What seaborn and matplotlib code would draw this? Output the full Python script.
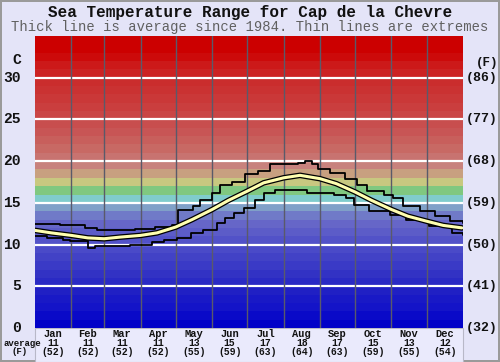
# Sea temperature range chart - average line with min/max extremes over colour bands

import matplotlib.pyplot as plt
import matplotlib.patheffects as pe
import numpy as np
import pandas as pd
import seaborn as sns
from matplotlib.patches import Rectangle

# Month labels and the monthly averages printed under the axis
months = ["Jan", "Feb", "Mar", "Apr", "May", "Jun",
          "Jul", "Aug", "Sep", "Oct", "Nov", "Dec"]
month_avg_c = [11, 11, 11, 11, 13, 15, 17, 18, 17, 15, 13, 12]
month_avg_f = [52, 52, 52, 52, 55, 59, 63, 64, 63, 59, 55, 54]
month_starts = [0, 31, 59, 90, 120, 151, 181, 212, 243, 273, 304, 334, 365]

# Average sea temperature (day of year, deg C)
avg_days = [0, 14, 31, 45, 59, 73, 90, 104, 120, 134, 151, 165, 181,
            195, 212, 226, 243, 257, 273, 287, 304, 318, 334, 348, 364]
avg_vals = [11.7, 11.4, 11.1, 10.8, 10.7, 10.9, 11.1, 11.4, 12.1, 13.0, 14.2, 15.3, 16.4,
            17.4, 18.0, 18.3, 17.9, 17.3, 16.3, 15.3, 14.2, 13.4, 12.8, 12.3, 12.0]

# Highest recorded (step line)
max_days = [0, 21, 43, 53, 66, 85, 102, 117, 122, 135, 141, 151, 158, 168, 179,
            190, 200, 224, 230, 236, 241, 252, 264, 275, 283, 298, 305, 314, 328,
            341, 354, 365]
max_vals = [12.5, 12.3, 12.0, 11.7, 11.8, 11.9, 12.1, 12.4, 14.2, 14.6, 15.4, 16.2, 17.2, 17.5, 18.4,
            18.8, 19.6, 19.8, 20.0, 19.6, 19.0, 18.6, 17.8, 17.2, 16.4, 16.0, 15.6, 14.6, 14.0,
            13.4, 12.8, 12.6]

# Lowest recorded (step line)
min_days = [0, 10, 24, 30, 45, 51, 81, 100, 110, 121, 133, 143, 155, 162, 170,
            178, 188, 195, 205, 232, 255, 265, 272, 285, 303, 316, 336, 356, 365]
min_vals = [11.0, 10.8, 10.6, 10.4, 9.6, 9.8, 10.0, 10.3, 10.5, 10.8, 11.4, 11.8, 12.6, 13.2, 13.8,
            14.4, 15.4, 16.2, 16.5, 16.2, 16.0, 15.6, 14.8, 14.0, 13.6, 13.0, 12.2, 11.4, 11.2]

c_ticks = [0, 5, 10, 15, 20, 25, 30]
f_ticks = [32, 41, 50, 59, 68, 77, 86]

# One colour per degree band, 0..35 C
band_colors = [
    (0, 0, 200), (10, 10, 200), (20, 20, 200), (25, 25, 198), (32, 32, 196),
    (42, 42, 196), (50, 50, 196), (58, 58, 198), (66, 66, 198), (74, 74, 200),
    (82, 82, 200), (92, 92, 200), (102, 102, 200), (112, 122, 200), (128, 160, 200),
    (128, 204, 204), (128, 200, 128), (200, 200, 128), (200, 160, 128), (200, 130, 125),
    (200, 115, 112), (200, 105, 100), (200, 95, 92), (200, 85, 85), (200, 78, 78),
    (202, 70, 70), (202, 62, 62), (202, 56, 56), (202, 50, 50), (202, 45, 45),
    (204, 35, 35), (204, 25, 25), (204, 10, 10), (204, 0, 0), (204, 0, 0),
]

avg_df = pd.DataFrame({"day": avg_days, "temp": avg_vals})
max_df = pd.DataFrame({"day": max_days, "temp": max_vals})
min_df = pd.DataFrame({"day": min_days, "temp": min_vals})

sns.set_style("white")
plt.rcParams["font.family"] = ["Liberation Mono", "DejaVu Sans Mono"]

fig = plt.figure(figsize=(5.0, 3.62), dpi=100)
fig.patch.set_facecolor("#e4e4f8")
fig.patch.set_edgecolor("#9a9a9a")
fig.patch.set_linewidth(1.5)

# Lighter box behind the month labels (below the axes in draw order)
fig.patches.append(Rectangle((35 / 500, 0), 428 / 500, 34 / 362, transform=fig.transFigure,
                             facecolor="#eaeafc", edgecolor="#b8b8c8", lw=0.8, zorder=-1))

ax = fig.add_axes([35 / 500, 34 / 362, 428 / 500, 292 / 362])

# Colour bands, one per degree
for i, col in enumerate(band_colors):
    ax.axhspan(i, i + 1, color=np.array(col) / 255, lw=0, zorder=0)

# White grid at every 5 C, grey lines at month boundaries
for t in c_ticks[1:]:
    ax.axhline(t, color="white", lw=1.6, zorder=1)
for d in month_starts[1:-1]:
    ax.axvline(d, color="#5a5a6a", lw=1.0, zorder=1)

sns.lineplot(data=max_df, x="day", y="temp", ax=ax, color="black",
             lw=1.3, drawstyle="steps-post", zorder=3)
sns.lineplot(data=min_df, x="day", y="temp", ax=ax, color="black",
             lw=1.3, drawstyle="steps-post", zorder=3)
sns.lineplot(data=avg_df, x="day", y="temp", ax=ax, color="#ffffb0", lw=2.2, zorder=4,
             path_effects=[pe.Stroke(linewidth=4.0, foreground="black"), pe.Normal()])

ax.set_xlim(0, 365)
ax.set_ylim(0, 35)
ax.set_xticks([])
ax.set_yticks([])
ax.set_xlabel("")
ax.set_ylabel("")
for s in ax.spines.values():
    s.set_visible(False)

# Titles
fig.text(0.5, 1 - 12 / 362, "Sea Temperature Range for Cap de la Chevre",
         ha="center", va="center", fontsize=11.5, fontweight="bold", color="#111111")
fig.text(0.5, 1 - 27 / 362, "Thick line is average since 1984. Thin lines are extremes",
         ha="center", va="center", fontsize=10, color="#606060")

# Celsius ticks on the left, Fahrenheit on the right
for c, f in zip(c_ticks, f_ticks):
    ax.text(-0.033, c, str(c), transform=ax.get_yaxis_transform(), ha="right", va="center",
            fontsize=10.5, fontweight="bold", color="#111111")
    ax.text(1.006, c, f"({f})", transform=ax.get_yaxis_transform(), ha="left", va="center",
            fontsize=9.5, fontweight="bold", color="#111111")
ax.text(-0.033, 32.1, "C", transform=ax.get_yaxis_transform(), ha="right", va="center",
        fontsize=10.5, fontweight="bold", color="#111111")
ax.text(1.03, 31.8, "(F)", transform=ax.get_yaxis_transform(), ha="left", va="center",
        fontsize=9, fontweight="bold", color="#111111")

# Month names with monthly averages below the axis
for i, m in enumerate(months):
    mid = (month_starts[i] + month_starts[i + 1]) / 2
    ax.text(mid, -6 / 292, m, transform=ax.get_xaxis_transform(), ha="center", va="center",
            fontsize=7.5, fontweight="bold", color="#111111", clip_on=False)
    ax.text(mid, -15 / 292, str(month_avg_c[i]), transform=ax.get_xaxis_transform(),
            ha="center", va="center", fontsize=7, fontweight="bold", color="#111111", clip_on=False)
    ax.text(mid, -24 / 292, f"({month_avg_f[i]})", transform=ax.get_xaxis_transform(),
            ha="center", va="center", fontsize=7, fontweight="bold", color="#111111", clip_on=False)
fig.text(22 / 500, 1 - 343 / 362, "average", ha="center", va="center",
         fontsize=6.5, fontweight="bold", color="#111111")
fig.text(20 / 500, 1 - 352 / 362, "(F)", ha="center", va="center",
         fontsize=6.5, fontweight="bold", color="#111111")

fig.savefig("out.png", dpi=100, facecolor=fig.get_facecolor(), edgecolor=fig.get_edgecolor())
